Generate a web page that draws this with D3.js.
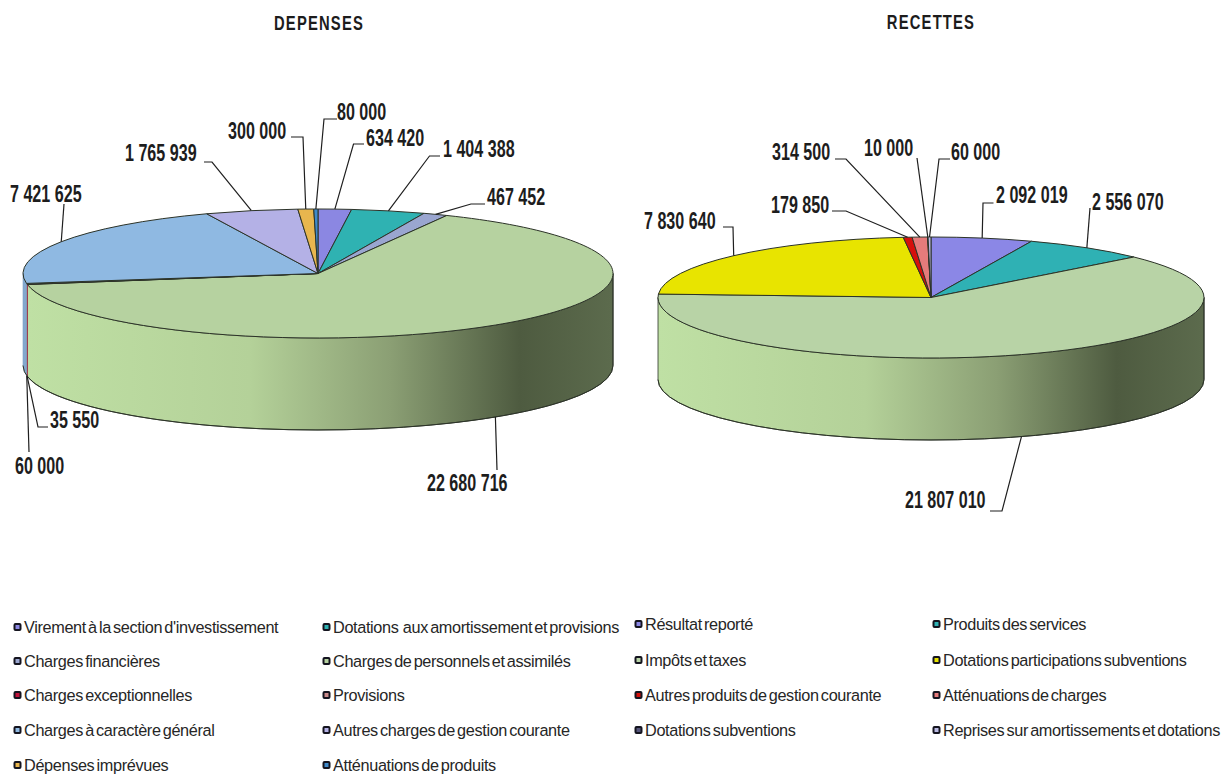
<!DOCTYPE html>
<html lang="fr">
<head>
<meta charset="utf-8">
<title>Dépenses et recettes</title>
<script src="https://cdn.jsdelivr.net/npm/d3@7"></script>
<style>
  html, body { margin: 0; background: #fff; }
  svg { display: block; }
  .title { font: 700 20px "Liberation Sans", sans-serif; letter-spacing: 1.6px; fill: #1c1c1c; }
  .value { font: 700 23px "Liberation Sans", sans-serif; fill: #1d1d1d; }
  .legend { font: 400 16.25px "Liberation Sans", sans-serif; fill: #262626; letter-spacing: -0.35px; word-spacing: -2px; }
</style>
</head>
<body>
<svg id="chart" width="1226" height="774"></svg>
<script>
// Categories and amounts, clockwise from twelve o'clock
const depensesCategories = [
  "Virement à la section d'investissement",
  "Dotations  aux amortissement et provisions",
  "Charges financières",
  "Charges de personnels et assimilés",
  "Charges exceptionnelles",
  "Provisions",
  "Charges à caractère général",
  "Autres charges de gestion courante",
  "Dépenses imprévues",
  "Atténuations de produits"
];
const depensesValues = [634420, 1404388, 467452, 22680716, 35550, 60000, 7421625, 1765939, 300000, 80000];
const depensesColors = ["#8b87e2", "#2fb2b2", "#9aa6d0", "#b6d2a0", "#c2143c", "#c98a8a", "#8fb9e2", "#b4b1e6", "#e8b64e", "#3f8aca"];

const recettesCategories = [
  "Résultat reporté",
  "Produits des services",
  "Impôts et taxes",
  "Dotations participations subventions",
  "Autres produits de gestion courante",
  "Atténuations de charges",
  "Dotations subventions",
  "Reprises sur amortissements et dotations"
];
const recettesValues = [2092019, 2556070, 21807010, 7830640, 179850, 314500, 10000, 60000];
const recettesColors = ["#8b87e6", "#2fb1b4", "#b8d3a6", "#e8e400", "#d5100c", "#e57b7b", "#55557a", "#b9b9e2"];

// Value-label placement: text start, text centre line, and leader elbow points
const depensesLabelLayout = [
  { x: 366, y: 138, elbow: [[364, 144], [353.5, 144]] },
  { x: 443, y: 149, elbow: [[440, 156], [429.5, 156]] },
  { x: 487, y: 197, elbow: [[485, 204], [471, 204]] },
  { x: 427, y: 483, elbow: [[497, 470]] },
  { x: 50,  y: 420, elbow: [[48, 427], [38, 427]] },
  { x: 15,  y: 466, elbow: [[29, 452]] },
  { x: 10,  y: 194, elbow: [[64, 204]] },
  { x: 125, y: 153, elbow: [[204, 162], [212, 162]] },
  { x: 228, y: 131, elbow: [[291, 137], [303, 137]] },
  { x: 337, y: 112, elbow: [[337, 119], [324, 119]] }
];
const recettesLabelLayout = [
  { x: 996,  y: 195, elbow: [[993.5, 203], [983, 203]] },
  { x: 1092, y: 202, elbow: [[1090, 208]] },
  { x: 905,  y: 500, elbow: [[990, 511], [1002, 511]] },
  { x: 644,  y: 221, elbow: [[723, 227], [733, 227]] },
  { x: 771,  y: 205, elbow: [[832, 211], [846, 211]] },
  { x: 772,  y: 152, elbow: [[835, 159], [846, 159]] },
  { x: 864,  y: 148, elbow: [[917, 158]] },
  { x: 951,  y: 152, elbow: [[950, 159], [939, 159]] }
];

const svg = d3.select("#chart");
const defs = svg.append("defs");

// Light-to-dark shading of the large front wall
const wallGradient = defs.append("linearGradient").attr("id", "wallShade");
[[0, "#bfe0a4"], [0.38, "#b4d199"], [0.62, "#8b9f74"], [0.84, "#4e5b40"], [1, "#5c6b4d"]].forEach(([o, c]) => {
  wallGradient.append("stop").attr("offset", o).attr("stop-color", c);
});

const formatValue = v => d3.format(",")(v).replace(/,/g, " ");
const pieLayout = d3.pie().sort(null).value(d => d).startAngle(0).endAngle(2 * Math.PI);

// Narrow face: the installed sans squeezed horizontally
const narrowText = (sel, x, y, sx) => sel.attr("transform", `translate(${x},${y}) scale(${sx},1)`);

// Draws one tilted pie: top face, visible walls and leader-line labels
function drawPie(values, colors, layout, geom, title) {
  const g = svg.append("g");
  const arcs = pieLayout(values);
  const px = a => geom.cx + geom.rx * Math.sin(a);
  const py = (a, dz = 0) => geom.cy - geom.ry * Math.cos(a) + dz;
  const ink = "#2c3328";

  const titleText = g.append("text").attr("class", "title").attr("text-anchor", "middle").text(title);
  narrowText(titleText, geom.titleX, geom.titleY, 0.74);

  // Walls exist only on the near half of the ellipse
  const wall = (s, e) => {
    const large = e - s > Math.PI ? 1 : 0;
    return `M${px(s)},${py(s)}A${geom.rx},${geom.ry} 0 ${large} 1 ${px(e)},${py(e)}` +
           `L${px(e)},${py(e, geom.depth)}A${geom.rx},${geom.ry} 0 ${large} 0 ${px(s)},${py(s, geom.depth)}Z`;
  };
  arcs.forEach((d, i) => {
    const s = Math.max(d.startAngle, Math.PI / 2), e = Math.min(d.endAngle, 1.5 * Math.PI);
    if (e > s) {
      const isLarge = e - s > 1;
      g.append("path").attr("d", wall(s, e))
        .attr("fill", isLarge ? "url(#wallShade)" : d3.color(colors[i]).darker(0.25))
        .attr("stroke", isLarge ? ink : d3.color(colors[i]).darker(0.4))
        .attr("stroke-width", isLarge ? 0.8 : 0.6);
    }
  });

  // Lower rim line of the side wall
  g.append("path")
    .attr("d", `M${px(Math.PI / 2)},${py(Math.PI / 2)}L${px(Math.PI / 2)},${py(Math.PI / 2, geom.depth)}` +
               `A${geom.rx},${geom.ry} 0 0 1 ${px(1.5 * Math.PI)},${py(1.5 * Math.PI, geom.depth)}`)
    .attr("fill", "none").attr("stroke", ink).attr("stroke-width", 1);

  // Top face slices
  g.selectAll("path.slice").data(arcs).join("path").attr("class", "slice")
    .attr("fill", (d, i) => colors[i])
    .attr("stroke", ink).attr("stroke-width", 1).attr("stroke-linejoin", "round")
    .attr("d", d => {
      const large = d.endAngle - d.startAngle > Math.PI ? 1 : 0;
      return `M${geom.cx},${geom.cy}L${px(d.startAngle)},${py(d.startAngle)}` +
             `A${geom.rx},${geom.ry} 0 ${large} 1 ${px(d.endAngle)},${py(d.endAngle)}Z`;
    });

  // Leaders start at the rim point of each slice's mid angle
  const line = d3.line();
  arcs.forEach((d, i) => {
    const mid = (d.startAngle + d.endAngle) / 2;
    const front = mid > Math.PI / 2 && mid < 1.5 * Math.PI;
    const anchor = [px(mid), py(mid, front ? geom.depth : 0)];
    const spec = layout[i];
    g.append("path").attr("d", line([...spec.elbow, anchor]))
      .attr("fill", "none").attr("stroke", "#1f1f1f").attr("stroke-width", 1.2);
    const label = g.append("text").attr("class", "value").attr("dy", "0.35em").text(formatValue(d.data));
    narrowText(label, spec.x, spec.y, 0.70);
  });
}

drawPie(depensesValues, depensesColors, depensesLabelLayout,
  { cx: 318, cy: 273.5, rx: 295, ry: 64.5, depth: 92, titleX: 319, titleY: 30 }, "DEPENSES");
drawPie(recettesValues, recettesColors, recettesLabelLayout,
  { cx: 931, cy: 297.5, rx: 273, ry: 60.5, depth: 82, titleX: 931, titleY: 29 }, "RECETTES");

// Two-column legend block for each pie
function drawLegend(categories, colors, columns, rows) {
  const g = svg.append("g");
  categories.forEach((name, i) => {
    const col = columns[i % 2];
    const y = rows[Math.floor(i / 2)];
    g.append("rect")
      .attr("x", col - 9.5).attr("y", y - 3).attr("width", 6).attr("height", 6).attr("rx", 1)
      .attr("fill", colors[i]).attr("stroke", "#14141f").attr("stroke-width", 2);
    g.append("text").attr("class", "legend").attr("xml:space", "preserve")
      .attr("x", col).attr("y", y).attr("dy", "0.35em").text(name);
  });
}
drawLegend(depensesCategories, depensesColors, [24, 333], [627, 661, 695, 730, 765]);
drawLegend(recettesCategories, recettesColors, [645, 943], [624, 660, 695, 730]);
</script>
</body>
</html>
